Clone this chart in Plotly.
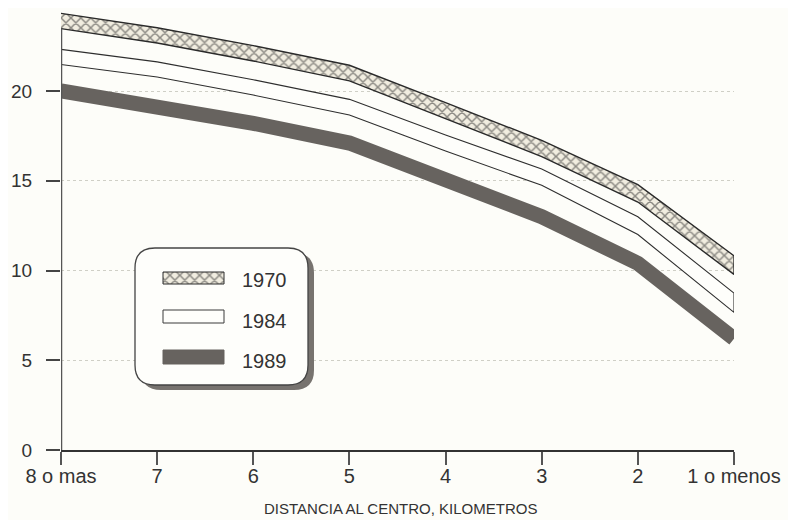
import math
import plotly.graph_objects as go

# ---- data ----
categories = ["8 o mas", "7", "6", "5", "4", "3", "2", "1 o menos"]
v1970 = [23.9, 23.1, 22.1, 21.0, 18.9, 16.8, 14.3, 10.3]
v1984 = [21.9, 21.2, 20.2, 19.1, 17.1, 15.2, 12.5, 8.2]
v1989 = [20.0, 19.2, 18.2, 17.1, 15.0, 13.0, 10.4, 6.2]
series_names = ["1970", "1984", "1989"]
y_ticks = [0, 5, 10, 15, 20]
x_title = "DISTANCIA AL CENTRO, KILOMETROS"

# ---- geometry ----
# The page body adds an 8px offset; layout is expressed in page pixels.
OFF = 8
W, H = 796 - OFF, 520 - OFF
PLOT_L, PLOT_R, PLOT_T, PLOT_B = 61, 734, 8, 450  # page pixels
ML, MR = PLOT_L - OFF, (OFF + W) - PLOT_R
MT, MB = PLOT_T - OFF, (OFF + H) - PLOT_B
PW, PH = PLOT_R - PLOT_L, PLOT_B - PLOT_T
XMAX = len(categories) - 1
PX_Y = 17.95
YMAX = PH / PX_Y
PX_X = PW / XMAX
x_idx = list(range(len(categories)))

def px2data(px, py):
    return (px - PLOT_L) / PX_X, (PLOT_B - py) / PX_Y

def band(values, half_px):
    """Upper/lower edges of a band of constant perpendicular thickness."""
    n = len(values)
    up, lo = [], []
    for i in range(n):
        angs = []
        if i > 0:
            angs.append(math.atan2((values[i] - values[i-1]) * PX_Y, PX_X))
        if i < n - 1:
            angs.append(math.atan2((values[i+1] - values[i]) * PX_Y, PX_X))
        a = sum(angs) / len(angs)
        off = half_px / math.cos(a) / PX_Y
        up.append(values[i] + off)
        lo.append(values[i] - off)
    return up, lo

FONT = "Liberation Sans, Arial, sans-serif"
INK = "#333333"
DARK = "#67635f"
HATCH = dict(shape="x", fgcolor="#262626", bgcolor="#f1ede0", size=7, solidity=0.38)

fig = go.Figure()

# 1970 hatched band
u, l = band(v1970, 7.5)
fig.add_trace(go.Scatter(
    x=x_idx + x_idx[::-1], y=u + l[::-1], mode="lines", fill="toself",
    fillcolor="#f1ede0", fillpattern=HATCH,
    line=dict(color="#2a2a2a", width=1.4), hoverinfo="skip", showlegend=False))

# 1984 white band
u, l = band(v1984, 7.5)
fig.add_trace(go.Scatter(
    x=x_idx + x_idx[::-1], y=u + l[::-1], mode="lines", fill="toself",
    fillcolor="#fefefb", line=dict(color="#2e2e2e", width=1.1),
    hoverinfo="skip", showlegend=False))

# 1989 dark thick band
fig.add_trace(go.Scatter(
    x=x_idx, y=v1989, mode="lines", line=dict(color=DARK, width=15),
    hoverinfo="skip", showlegend=False))

# ---- manual legend ----
def rrect_path(x0, y0, x1, y1, r):
    def P(px, py):
        dx, dy = px2data(px, py)
        return f"{dx:.5f},{dy:.5f}"
    path = f"M {P(x0 + r, y0)} L {P(x1 - r, y0)} Q {P(x1, y0)} {P(x1, y0 + r)} "
    path += f"L {P(x1, y1 - r)} Q {P(x1, y1)} {P(x1 - r, y1)} "
    path += f"L {P(x0 + r, y1)} Q {P(x0, y1)} {P(x0, y1 - r)} "
    path += f"L {P(x0, y0 + r)} Q {P(x0, y0)} {P(x0 + r, y0)} Z"
    return path

bx0, by0, bx1, by1 = 135, 248, 308, 385
shapes = [
    dict(type="path", path=rrect_path(bx0 + 6, by0 + 5, bx1 + 6, by1 + 5, 20),
         xref="x", yref="y", fillcolor="#77736f", line=dict(width=0), layer="between"),
    dict(type="path", path=rrect_path(bx0, by0, bx1, by1, 20),
         xref="x", yref="y", fillcolor="#fefefb", line=dict(color="#444444", width=1.3),
         layer="between"),
]

sw_x0, sw_x1 = 163, 224
sw_rows = [(272, 284), (310, 323), (350, 364)]

def rect_trace(px0, py0, px1, py1, **kw):
    a = px2data(px0, py0)
    b = px2data(px1, py1)
    xs = [a[0], b[0], b[0], a[0], a[0]]
    ys = [a[1], a[1], b[1], b[1], a[1]]
    return go.Scatter(x=xs, y=ys, mode="lines", fill="toself", hoverinfo="skip",
                      showlegend=False, **kw)

fig.add_trace(rect_trace(sw_x0, sw_rows[0][0], sw_x1, sw_rows[0][1],
    fillcolor="#f1ede0", fillpattern=HATCH, line=dict(color="#2a2a2a", width=1)))
fig.add_trace(rect_trace(sw_x0, sw_rows[1][0], sw_x1, sw_rows[1][1],
    fillcolor="#fefefb", line=dict(color="#3a3a3a", width=1)))
fig.add_trace(rect_trace(sw_x0, sw_rows[2][0], sw_x1, sw_rows[2][1],
    fillcolor=DARK, line=dict(color=DARK, width=1)))

annotations = []
label_y = [280, 321, 361]
for name, py in zip(series_names, label_y):
    dx, dy = px2data(240, py)
    annotations.append(dict(x=dx, y=dy, xref="x", yref="y", text=name, showarrow=False,
                            xanchor="left", yanchor="middle",
                            font=dict(family=FONT, size=20, color=INK)))

# x-axis title
annotations.append(dict(x=(400 - PLOT_L) / PW, y=(PLOT_B - 508) / PH, xref="paper", yref="paper",
                        text=x_title, showarrow=False, xanchor="center", yanchor="middle",
                        font=dict(family=FONT, size=15, color=INK)))

# y axis line (stops at top of data)
shapes.append(dict(type="line", x0=0, x1=0, y0=0, y1=23.5, xref="x", yref="y",
                   line=dict(color="#555555", width=2.5), layer="above"))

fig.update_layout(
    width=W, height=H,
    margin=dict(l=ML, r=MR, t=MT, b=MB, autoexpand=False),
    paper_bgcolor="#fdfdf9", plot_bgcolor="#fdfdf9",
    showlegend=False,
    shapes=shapes, annotations=annotations,
    xaxis=dict(range=[0, XMAX], tickmode="array", tickvals=x_idx, ticktext=categories,
               showgrid=False, zeroline=False, showline=True, linecolor="#333333",
               linewidth=2, ticks="outside", ticklen=13, tickwidth=2, tickcolor="#555555",
               tickfont=dict(family=FONT, size=20, color=INK), ticklabelstandoff=-6),
    yaxis=dict(range=[0, YMAX], tickmode="array", tickvals=y_ticks,
               showgrid=True, gridcolor="#cfcfc6", griddash="dot", gridwidth=1,
               zeroline=False, showline=False, ticks="outside", ticklen=14,
               tickwidth=1.5, tickcolor="#444444",
               tickfont=dict(family=FONT, size=19, color=INK), ticklabelstandoff=10),
)

fig.write_html("out.html")
